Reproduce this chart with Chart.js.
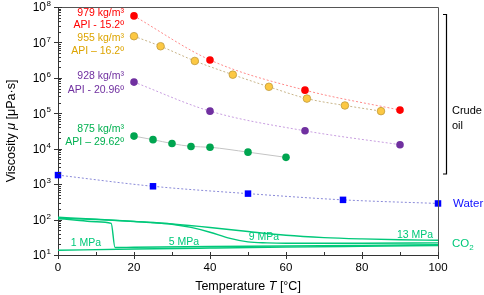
<!DOCTYPE html>
<html lang="en">
<head>
<meta charset="UTF-8">
<title>Viscosity vs temperature</title>
<script src="https://cdn.jsdelivr.net/npm/chart.js@4.4.0/dist/chart.umd.min.js"></script>
<style>
  html, body { margin: 0; padding: 0; background: #fff; }
  #wrap { width: 484px; height: 295px; position: relative; }
</style>
</head>
<body>
<div id="wrap"><canvas id="visc"></canvas></div>
<script>
// crude oils (temperature in °C, viscosity in µPa·s)
const t979 = [20, 40, 65, 90];
const mu979 = [5.6e7, 3.2e6, 4.5e5, 1.23e5];
const t955 = [20, 27, 36, 46, 55.5, 65.5, 75.5, 85];
const mu955 = [1.5e7, 7.8e6, 3.0e6, 1.23e6, 5.6e5, 2.6e5, 1.66e5, 1.15e5];
const t928 = [20, 40, 65, 90];
const mu928 = [7.6e5, 1.15e5, 3.2e4, 1.3e4];
const t875 = [20, 25, 30, 35, 40, 50, 60];
const mu875 = [2.27e4, 1.8e4, 1.4e4, 1.16e4, 1.1e4, 8.0e3, 5.7e3];

// water
const tWater = [0, 25, 50, 75, 100];
const muWater = [1800, 870, 540, 360, 285];

// CO2 at several pressures
const tCo2_1 = [0, 20, 40, 60, 80, 100];
const muCo2_1 = [13.6, 14.7, 15.7, 16.7, 17.6, 18.5];
const tCo2_5 = [0, 5, 10, 14, 15, 20, 40, 60, 80, 100];
const muCo2_5 = [106, 96, 87, 78, 16.3, 16.6, 17.3, 18.0, 18.7, 19.4];
const tCo2_9 = [0, 10, 20, 25, 30, 35, 40, 45, 50, 55, 60, 80, 100];
const muCo2_9 = [110, 100, 89, 83, 74, 60, 44, 30, 23.5, 22, 21.5, 21.5, 22];
const tCo2_13 = [0, 10, 20, 30, 40, 50, 60, 70, 80, 90, 100];
const muCo2_13 = [116, 103, 88, 75, 60, 46, 36, 31, 28.5, 27, 26];

const xTicks = [0, 20, 40, 60, 80, 100];
const yDecades = [1, 2, 3, 4, 5, 6, 7, 8];

const FONT = "'Liberation Sans', Arial, sans-serif";
const CO2_COLOR = '#00c87a';

function pts(xs, ys) {
  return xs.map((x, i) => ({ x: x, y: ys[i] }));
}

function markers(xs, ys, fill, border, style, r) {
  return {
    data: pts(xs, ys), showLine: false, clip: false,
    pointStyle: style || 'circle', pointRadius: r || 3.8,
    backgroundColor: fill, borderColor: border || fill, pointBorderWidth: border ? 0.8 : 0
  };
}
function fitLine(xs, ys, color, dash) {
  return {
    data: pts(xs, ys), borderColor: color, borderWidth: 1, borderDash: dash,
    pointRadius: 0, cubicInterpolationMode: 'monotone', fill: false
  };
}
function co2Line(xs, ys) {
  return {
    data: pts(xs, ys), borderColor: CO2_COLOR, borderWidth: 1.4,
    pointRadius: 0, cubicInterpolationMode: 'monotone', fill: false
  };
}

// draws a run of [text, italic] pieces centred at (cx, cy)
function drawPieces(ctx, pieces, cx, cy, size) {
  let total = 0;
  pieces.forEach(p => {
    ctx.font = (p[1] ? 'italic ' : '') + size + 'px ' + FONT;
    total += ctx.measureText(p[0]).width;
  });
  let x = cx - total / 2;
  ctx.textAlign = 'left';
  ctx.textBaseline = 'middle';
  pieces.forEach(p => {
    ctx.font = (p[1] ? 'italic ' : '') + size + 'px ' + FONT;
    ctx.fillText(p[0], x, cy);
    x += ctx.measureText(p[0]).width;
  });
}

// axis ticks, box, tick labels, titles and text labels
const decorations = {
  id: 'decorations',
  afterDraw(chart) {
    const ctx = chart.ctx;
    const a = chart.chartArea;
    const xs = chart.scales.x, ys = chart.scales.y;
    ctx.save();
    ctx.strokeStyle = '#555';
    ctx.lineWidth = 1;
    ctx.beginPath();
    ctx.moveTo(a.left, a.top + 0.5); ctx.lineTo(a.right + 0.5, a.top + 0.5);
    ctx.lineTo(a.right + 0.5, a.bottom);
    ctx.stroke();

    // x ticks
    ctx.strokeStyle = '#333';
    ctx.beginPath();
    for (let v = 0; v <= 100; v += 10) {
      const px = Math.round(xs.getPixelForValue(v)) + 0.5;
      const major = v % 20 === 0;
      ctx.moveTo(px, a.bottom - 3);
      ctx.lineTo(px, a.bottom + (major ? 4 : 0));
    }
    // y ticks
    yDecades.forEach(n => {
      const py = Math.round(ys.getPixelForValue(Math.pow(10, n))) + 0.5;
      ctx.moveTo(a.left - 4, py); ctx.lineTo(a.left + 4, py);
      if (n < 8) {
        for (let m = 2; m < 10; m++) {
          const pm = Math.round(ys.getPixelForValue(m * Math.pow(10, n))) + 0.5;
          ctx.moveTo(a.left, pm); ctx.lineTo(a.left + 3, pm);
        }
      }
    });
    ctx.stroke();

    // y tick labels 10^n
    ctx.fillStyle = '#000';
    yDecades.forEach(n => {
      const py = ys.getPixelForValue(Math.pow(10, n));
      ctx.font = '12px ' + FONT;
      ctx.textAlign = 'right';
      ctx.textBaseline = 'middle';
      ctx.fillText('10', a.left - 12, py + 1);
      ctx.font = '8px ' + FONT;
      ctx.textAlign = 'left';
      ctx.fillText(String(n), a.left - 11.5, py - 3);
    });
    // x tick labels
    ctx.font = '11.5px ' + FONT;
    ctx.textAlign = 'center';
    xTicks.forEach(v => {
      ctx.fillText(String(v), xs.getPixelForValue(v), a.bottom + 13);
    });

    // axis titles
    drawPieces(ctx, [['Temperature ', false], ['T', true], [' [°C]', false]],
      (a.left + a.right) / 2, 287, 12.5);
    ctx.save();
    ctx.translate(12, (a.top + a.bottom) / 2);
    ctx.rotate(-Math.PI / 2);
    drawPieces(ctx, [['Viscosity ', false], ['μ', true], [' [μPa·s]', false]], 0, 0, 12.5);
    ctx.restore();

    // oil labels
    ctx.font = '10.5px ' + FONT;
    ctx.textAlign = 'right';
    ctx.textBaseline = 'middle';
    const oilLabels = [
      ['979 kg/m³', 'API - 15.2º', '#ff0000', 13, 25],
      ['955 kg/m³', 'API – 16.2º', '#dda400', 38, 51],
      ['928 kg/m³', 'API - 20.96º', '#7030a0', 76, 90],
      ['875 kg/m³', 'API – 29.62º', '#00b050', 129, 142]
    ];
    oilLabels.forEach(l => {
      ctx.fillStyle = l[2];
      ctx.fillText(l[0], 124, l[3]);
      ctx.fillText(l[1], 124, l[4]);
    });

    // pressure labels
    ctx.fillStyle = CO2_COLOR;
    ctx.font = '10.5px ' + FONT;
    ctx.textAlign = 'center';
    ctx.fillText('1 MPa', 86, 243);
    ctx.fillText('5 MPa', 184, 242);
    ctx.fillText('9 MPa', 264, 237.5);
    ctx.fillText('13 MPa', 415, 235.5);

    // right side labels
    ctx.textAlign = 'left';
    ctx.font = '11.5px ' + FONT;
    ctx.fillText('CO', 452, 244);
    const w = ctx.measureText('CO').width;
    ctx.font = '8px ' + FONT;
    ctx.fillText('2', 452 + w, 248);

    ctx.font = '11.5px ' + FONT;
    ctx.fillStyle = '#1010ff';
    ctx.fillText('Water', 453, 204);

    ctx.fillStyle = '#000';
    ctx.font = '11px ' + FONT;
    ctx.fillText('Crude', 452, 111);
    ctx.fillText('oil', 452, 126);

    ctx.strokeStyle = '#000';
    ctx.lineWidth = 1.2;
    ctx.beginPath();
    ctx.moveTo(443, 14.5); ctx.lineTo(446.5, 14.5);
    ctx.lineTo(446.5, 174); ctx.lineTo(443, 174);
    ctx.stroke();
    ctx.restore();
  }
};

new Chart(document.getElementById('visc'), {
  type: 'line',
  data: {
    datasets: [
      markers(tWater, muWater, '#0000ff', null, 'rect', 4.6),
      markers(t979, mu979, '#ff0000'),
      markers(t955, mu955, '#fcc843', '#c09a3c'),
      markers(t928, mu928, '#7030a0'),
      markers(t875, mu875, '#00a550'),
      fitLine(t979, mu979, '#ff8a8a', [2, 2]),
      fitLine(t955, mu955, '#c8b488', [2, 2]),
      fitLine(t928, mu928, '#c89ee0', [2, 2]),
      fitLine(t875, mu875, '#c4c4c4', []),
      fitLine(tWater, muWater, '#8a8ad8', [2, 2]),
      co2Line(tCo2_1, muCo2_1),
      co2Line(tCo2_5, muCo2_5),
      co2Line(tCo2_9, muCo2_9),
      co2Line(tCo2_13, muCo2_13)
    ]
  },
  options: {
    responsive: true,
    maintainAspectRatio: false,
    animation: false,
    events: [],
    layout: { padding: { left: 0, top: 7, right: 46, bottom: 0 } },
    plugins: { legend: { display: false }, tooltip: { enabled: false } },
    scales: {
      x: {
        type: 'linear', min: 0, max: 100,
        afterBuildTicks: s => { s.ticks = xTicks.map(v => ({ value: v })); },
        afterFit: s => { s.height = 40; },
        grid: { display: false },
        border: { display: true, color: '#333', width: 1 },
        ticks: { display: false },
        title: { display: false }
      },
      y: {
        type: 'logarithmic', min: 10, max: 1e8,
        afterFit: s => { s.width = 58; },
        grid: { display: false },
        border: { display: true, color: '#333', width: 1 },
        ticks: { display: false },
        title: { display: false }
      }
    }
  },
  plugins: [decorations]
});
</script>
</body>
</html>
